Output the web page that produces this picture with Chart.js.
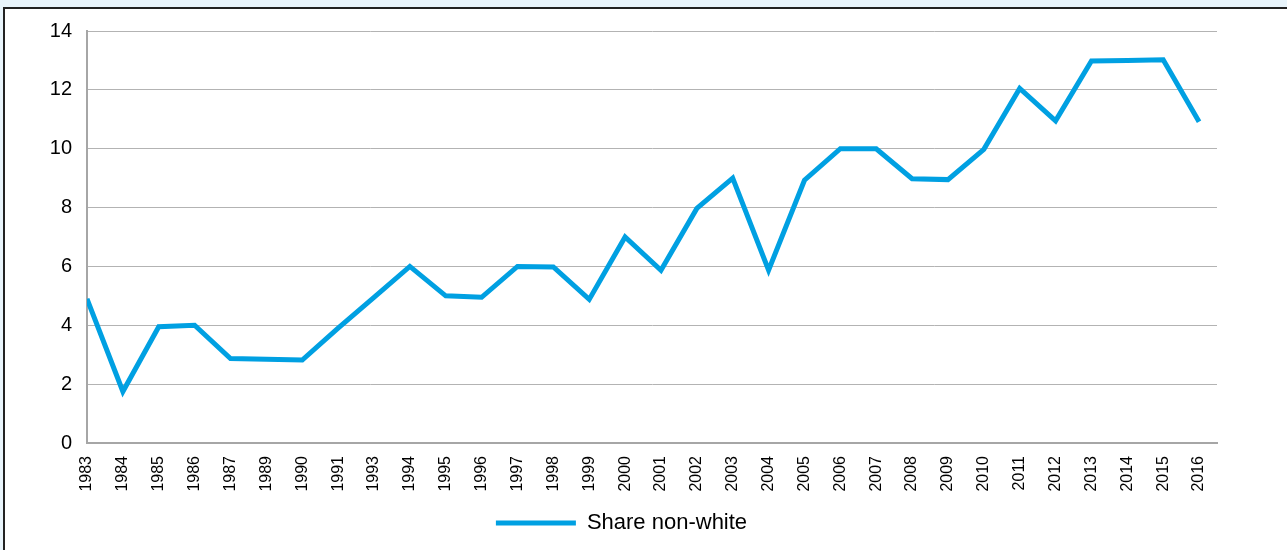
<!DOCTYPE html>
<html>
<head>
<meta charset="utf-8">
<script src="https://cdn.jsdelivr.net/npm/chart.js@4/dist/chart.umd.min.js"></script>
<style>
  html, body { margin: 0; padding: 0; background: #e8f4fb; width: 1287px; height: 550px; overflow: hidden; }
  #box { position: absolute; left: 3px; top: 7px; width: 1284px; height: 543px; background: #fff;
         border-left: 2px solid #222; border-top: 2px solid #222; }
  #wrap { position: absolute; left: 0; top: 0; width: 1282px; height: 541px; }
</style>
</head>
<body>
<div id="box"><div id="wrap"><canvas id="c"></canvas></div></div>
<script>
const categories = ["1983","1984","1985","1986","1987","1989","1990","1991","1993","1994","1995","1996","1997","1998","1999","2000","2001","2002","2003","2004","2005","2006","2007","2008","2009","2010","2011","2012","2013","2014","2015","2016"];
const shareNonWhite = [4.9,1.75,3.95,4.0,2.87,2.85,2.82,3.9,4.95,6.0,5.0,4.95,6.0,5.98,4.88,7.0,5.87,7.97,9.0,5.87,8.93,10.0,10.0,8.98,8.95,9.98,12.05,10.95,12.98,13.0,13.02,10.92];
const yTicks = [0,2,4,6,8,10,12,14];
const seriesName = "Share non-white";
const lineColor = "#00a0e2";

const ctx = document.getElementById('c');
new Chart(ctx, {
  type: 'line',
  data: {
    datasets: [{
      label: seriesName,
      data: shareNonWhite.map((v, i) => ({ x: i, y: v })),
      borderColor: lineColor,
      backgroundColor: lineColor,
      borderWidth: 5,
      pointRadius: 0,
      pointHoverRadius: 0,
      tension: 0,
      borderJoinStyle: 'miter',
      fill: false
    }]
  },
  options: {
    responsive: true,
    maintainAspectRatio: false,
    animation: false,
    events: [],
    layout: { padding: { left: 21, right: 70, top: 22, bottom: 6 } },
    plugins: {
      tooltip: { enabled: false },
      legend: {
        position: 'bottom',
        labels: {
          boxWidth: 80,
          boxHeight: 5,
          padding: 10,
          color: '#000',
          font: { family: "'Liberation Sans', Arial, sans-serif", size: 22 },
          generateLabels: (chart) => Chart.defaults.plugins.legend.labels.generateLabels(chart).map(l => Object.assign(l, { lineWidth: 0, fillStyle: lineColor }))
        }
      }
    },
    scales: {
      x: {
        type: 'linear',
        min: 0,
        max: categories.length - 1 + 0.5,
        afterBuildTicks: (scale) => { scale.ticks = categories.map((_, i) => ({ value: i })); },
        afterFit: (scale) => { scale.height = 59; },
        grid: { display: false, drawTicks: false },
        border: { display: true, color: '#a6a6a6', width: 2 },
        ticks: {
          autoSkip: false,
          maxRotation: 90,
          minRotation: 90,
          padding: 13,
          color: '#000',
          font: { family: "'Liberation Sans', Arial, sans-serif", size: 16 },
          callback: (value) => categories[value]
        }
      },
      y: {
        min: 0,
        max: 14,
        afterBuildTicks: (scale) => { scale.ticks = yTicks.map(v => ({ value: v })); },
        afterFit: (scale) => { scale.width = 61; scale.paddingTop = 0; scale.paddingBottom = 0; },
        grid: { color: '#b3b3b3', lineWidth: 1, drawTicks: false },
        border: { display: true, color: '#a6a6a6', width: 2 },
        ticks: {
          padding: 15,
          color: '#000',
          font: { family: "'Liberation Sans', Arial, sans-serif", size: 20 }
        }
      }
    }
  }
});
</script>
</body>
</html>
